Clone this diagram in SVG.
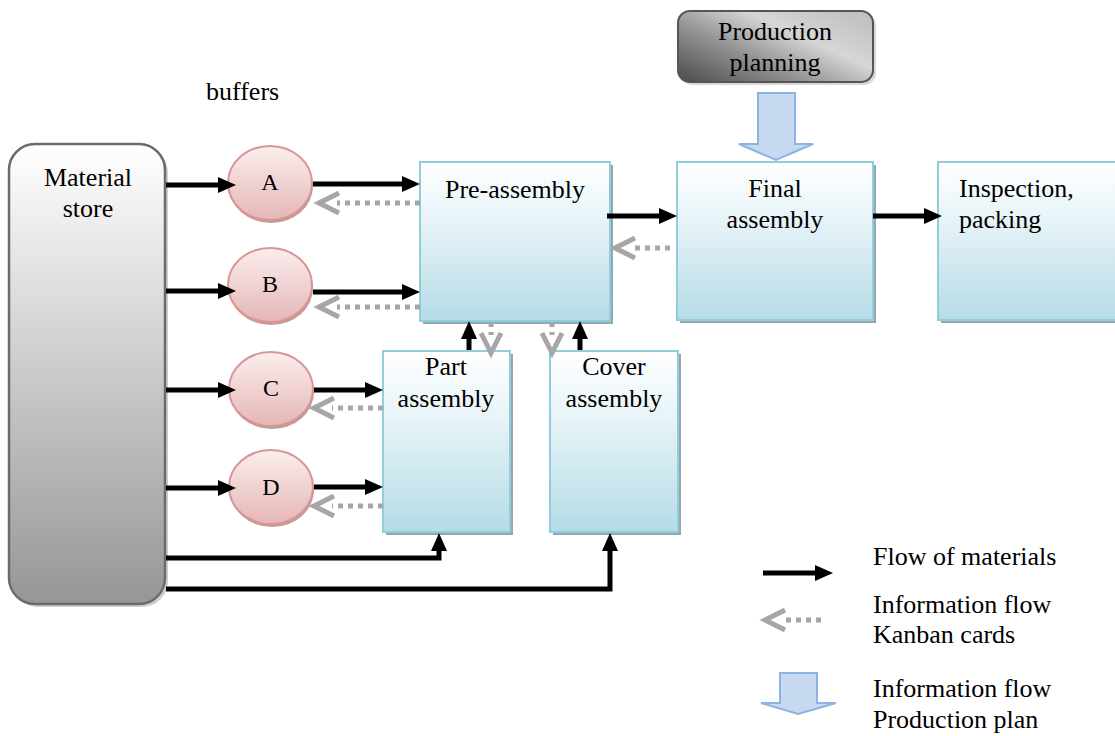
<svg xmlns="http://www.w3.org/2000/svg" width="1115" height="736" viewBox="0 0 1115 736">
<defs>
<linearGradient id="gStore" x1="0" y1="0" x2="0" y2="1">
<stop offset="0" stop-color="#ffffff"/><stop offset="1" stop-color="#969696"/>
</linearGradient>
<linearGradient id="gBox" x1="0" y1="0" x2="0" y2="1">
<stop offset="0" stop-color="#ffffff"/><stop offset="0.35" stop-color="#e8f4f8"/><stop offset="1" stop-color="#b5dce6"/>
</linearGradient>
<linearGradient id="gBuf" x1="0" y1="0" x2="0" y2="1">
<stop offset="0" stop-color="#fbeeee"/><stop offset="1" stop-color="#e5b6b6"/>
</linearGradient>
<linearGradient id="gPlan" x1="0" y1="1" x2="1" y2="0.2">
<stop offset="0" stop-color="#4a4a4a"/><stop offset="0.4" stop-color="#939393"/><stop offset="0.7" stop-color="#d6d6d6"/><stop offset="1" stop-color="#c2c2c2"/>
</linearGradient>
<marker id="mBlack" markerUnits="userSpaceOnUse" markerWidth="20" markerHeight="20" refX="0" refY="0" orient="auto" overflow="visible">
<path d="M-1,-8 L17,0 L-1,8 z" fill="#000"/>
</marker>
<marker id="mGray" markerUnits="userSpaceOnUse" markerWidth="24" markerHeight="24" refX="0" refY="0" orient="auto" overflow="visible">
<path d="M-2,-10 L18,0 L-2,10" fill="none" stroke="#a6a6a6" stroke-width="5" stroke-linejoin="miter"/>
</marker>
</defs>
<style>
text{font-family:"Liberation Serif","Times New Roman",serif;font-size:26px;fill:#000}
.c{text-anchor:middle}
.lt{font-size:24px}
.box{fill:url(#gBox);stroke:#93cddd;stroke-width:2}
.bsh{fill:#92a8ae}
.buf{fill:url(#gBuf);stroke:#d99594;stroke-width:2}
.fsh{fill:#c49a9a}
.mat{fill:none;stroke:#000;stroke-width:5;marker-end:url(#mBlack)}
.kan{fill:none;stroke:#a6a6a6;stroke-width:5;stroke-dasharray:5 5;marker-end:url(#mGray)}
.blk{fill:#c6d9f1;stroke:#8db3e2;stroke-width:2}
</style>
<rect width="1115" height="736" fill="#fff"/>

<g id="store">
<rect x="12" y="147" width="156" height="460" rx="26" fill="#cfcfcf"/>
<rect x="9" y="144" width="156" height="460" rx="26" fill="url(#gStore)" stroke="#6b6b6b" stroke-width="2.5"/>
<text class="c" x="88" y="186">Material</text>
<text class="c" x="88" y="217">store</text>
</g>

<text id="buffers-label" x="206" y="100">buffers</text>

<g id="bufA"><ellipse class="fsh" cx="271" cy="186" rx="42" ry="37"/><ellipse class="buf" cx="270" cy="183" rx="42" ry="37"/><text class="c lt" x="270" y="190">A</text></g>
<g id="bufB"><ellipse class="fsh" cx="271" cy="288" rx="42" ry="37"/><ellipse class="buf" cx="270" cy="285" rx="42" ry="37"/><text class="c lt" x="270" y="292">B</text></g>
<g id="bufC"><ellipse class="fsh" cx="272" cy="392" rx="42" ry="37"/><ellipse class="buf" cx="271" cy="389" rx="42" ry="37"/><text class="c lt" x="271" y="396">C</text></g>
<g id="bufD"><ellipse class="fsh" cx="272" cy="490" rx="42" ry="37"/><ellipse class="buf" cx="271" cy="487" rx="42" ry="37"/><text class="c lt" x="271" y="495">D</text></g>

<g id="preassembly">
<rect class="bsh" x="423" y="165" width="190" height="159"/>
<rect class="box" x="420" y="162" width="190" height="159"/>
<text class="c" x="515" y="198">Pre-assembly</text>
</g>

<g id="final">
<rect class="bsh" x="680" y="165" width="196" height="158"/>
<rect class="box" x="677" y="162" width="196" height="158"/>
<text class="c" x="775" y="197">Final</text>
<text class="c" x="775" y="228">assembly</text>
</g>

<g id="inspection">
<rect class="bsh" x="941" y="165" width="180" height="158"/>
<rect class="box" x="938" y="162" width="180" height="158"/>
<text x="959" y="197">Inspection,</text>
<text x="959" y="228">packing</text>
</g>

<g id="part">
<rect class="bsh" x="386" y="354" width="127" height="181"/>
<rect class="box" x="383" y="351" width="127" height="181"/>
<text class="c" x="446" y="375">Part</text>
<text class="c" x="446" y="407">assembly</text>
</g>

<g id="cover">
<rect class="bsh" x="553" y="354" width="128" height="181"/>
<rect class="box" x="550" y="351" width="128" height="181"/>
<text class="c" x="614" y="375">Cover</text>
<text class="c" x="614" y="407">assembly</text>
</g>

<g id="planning">
<rect x="681" y="14" width="195" height="71" rx="12" fill="#d9d9d9"/>
<rect x="678" y="11" width="195" height="71" rx="12" fill="url(#gPlan)" stroke="#555" stroke-width="2"/>
<text class="c" x="775" y="40">Production</text>
<text class="c" x="775" y="71">planning</text>
</g>

<g id="connectors">
<path class="blk" d="M758,93 H795 V144 H813 L776,160 L739,144 H758 Z"/>
<line class="mat" x1="166" y1="185" x2="219" y2="185"/>
<line class="mat" x1="313" y1="184" x2="403" y2="184"/>
<line class="kan" x1="420" y1="203" x2="337" y2="203"/>
<line class="mat" x1="166" y1="291" x2="219" y2="291"/>
<line class="mat" x1="313" y1="292" x2="403" y2="292"/>
<line class="kan" x1="420" y1="307" x2="337" y2="307"/>
<line class="mat" x1="166" y1="390" x2="219" y2="390"/>
<line class="mat" x1="314" y1="390" x2="366" y2="390"/>
<line class="kan" x1="383" y1="408" x2="332" y2="408"/>
<line class="mat" x1="166" y1="488" x2="219" y2="488"/>
<line class="mat" x1="314" y1="487" x2="366" y2="487"/>
<line class="kan" x1="383" y1="506" x2="332" y2="506"/>
<line class="mat" x1="607" y1="216" x2="660" y2="216"/>
<line class="kan" x1="670" y1="248" x2="633" y2="248"/>
<line class="mat" x1="873" y1="216" x2="925" y2="216"/>
<line class="mat" x1="469" y1="350" x2="469" y2="338"/>
<line class="mat" x1="580" y1="350" x2="580" y2="338"/>
<line class="kan" x1="491" y1="322" x2="491" y2="335"/>
<line class="kan" x1="552" y1="322" x2="552" y2="335"/>
<polyline class="mat" points="166,558 439,558 439,550"/>
<polyline class="mat" points="166,589 610,589 610,550"/>
</g>

<g id="legend">
<line class="mat" x1="763" y1="573" x2="816" y2="573"/>
<text x="873" y="565">Flow of materials</text>
<line class="kan" x1="821" y1="620" x2="783" y2="620"/>
<text x="873" y="613">Information flow</text>
<text x="873" y="643">Kanban cards</text>
<path class="blk" d="M780,673 H817 V703 H836 L798,714 L761,703 H780 Z"/>
<text x="873" y="697">Information flow</text>
<text x="873" y="728">Production plan</text>
</g>
</svg>
